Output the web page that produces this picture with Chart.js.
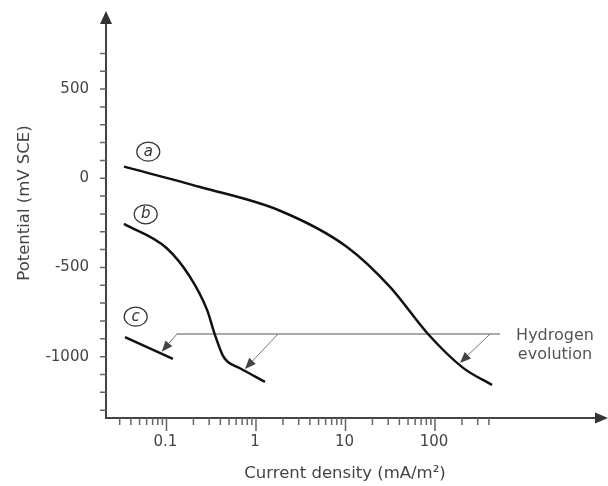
<!DOCTYPE html>
<html>
<head>
<meta charset="utf-8">
<script src="https://cdn.jsdelivr.net/npm/chart.js@4.4.1/dist/chart.umd.min.js"></script>
<style>
  html, body { margin: 0; padding: 0; background: #fff; }
  #wrap { width: 608px; height: 486px; }
</style>
</head>
<body>
<div id="wrap"><canvas id="chart" width="608" height="486"></canvas></div>
<script>
// curve (a)
const aX = [0.0335, 0.237, 1.855, 10.4, 31.4, 83.5, 206, 433];
const aY = [65, -49, -182, -385, -609, -873, -1063, -1159];
// curve (b)
const bX = [0.0335, 0.1, 0.183, 0.284, 0.348, 0.428, 0.486, 0.662, 1.26];
const bY = [-256, -391, -553, -738, -878, -996, -1030, -1065, -1142];
// curve (c)
const cX = [0.0344, 0.118];
const cY = [-890, -1013];

// hydrogen evolution marker line + arrows
const hX = [0.131, 532];
const hY = [-873, -873];
const arrowFrom = [[0.131, -873], [1.762, -873], [412, -873]];
const arrowTo   = [[0.0884, -972], [0.753, -1069], [190, -1035]];

// circled curve labels
const curveNames = ['a', 'b', 'c'];
const nameX = [0.0626, 0.0586, 0.0453];
const nameY = [149, -202, -776];

// axes
const X_MIN = 0.0211, X_MAX = 6620;
const Y_MIN = -1344,  Y_MAX = 876;
const yLabels = [500, 0, -500, -1000];
const yMinor  = [-1300, -1200, -1100, -1000, -900, -800, -700, -600, -500, -400, -300, -200, -100,
                 0, 100, 200, 300, 400, 500, 600, 700];
const xMajor  = [0.1, 1, 10, 100];
const xLabels = ['0.1', '1', '10', '100'];
const xMinor  = [0.03, 0.04, 0.05, 0.06, 0.07, 0.08, 0.09,
                 0.2, 0.3, 0.4, 0.5, 0.6, 0.7, 0.8, 0.9,
                 2, 3, 4, 5, 6, 7, 8, 9,
                 20, 30, 40, 50, 60, 70, 80, 90,
                 200, 300, 400];

const pts = (xs, ys) => xs.map((v, i) => ({ x: v, y: ys[i] }));
const FONT = '"DejaVu Sans", "Liberation Sans", sans-serif';

const axesPlugin = {
  id: 'axes',
  beforeDatasetsDraw(chart) {
    const { ctx, chartArea: ca, scales: { x, y } } = chart;
    ctx.save();
    // axis lines
    ctx.strokeStyle = '#444';
    ctx.lineWidth = 2;
    ctx.beginPath();
    ctx.moveTo(ca.left, ca.bottom);
    ctx.lineTo(ca.left, 23);
    ctx.moveTo(ca.left - 1, ca.bottom);
    ctx.lineTo(597, ca.bottom);
    ctx.stroke();
    ctx.fillStyle = '#333';
    ctx.beginPath();
    ctx.moveTo(ca.left, 11); ctx.lineTo(ca.left - 6, 24); ctx.lineTo(ca.left + 6, 24);
    ctx.closePath(); ctx.fill();
    ctx.beginPath();
    ctx.moveTo(608, ca.bottom); ctx.lineTo(595, ca.bottom - 5.5); ctx.lineTo(595, ca.bottom + 5.5);
    ctx.closePath(); ctx.fill();

    // ticks
    ctx.strokeStyle = '#666';
    ctx.lineWidth = 1.5;
    ctx.beginPath();
    yMinor.forEach(v => {
      const py = y.getPixelForValue(v);
      ctx.moveTo(ca.left - 6, py); ctx.lineTo(ca.left, py);
    });
    xMinor.forEach(v => {
      const px = x.getPixelForValue(v);
      ctx.moveTo(px, ca.bottom); ctx.lineTo(px, ca.bottom + 7);
    });
    xMajor.forEach(v => {
      const px = x.getPixelForValue(v);
      ctx.moveTo(px, ca.bottom); ctx.lineTo(px, ca.bottom + 13);
    });
    ctx.stroke();

    // tick labels
    ctx.fillStyle = '#444';
    ctx.font = '15px ' + FONT;
    ctx.textAlign = 'right';
    ctx.textBaseline = 'middle';
    yLabels.forEach(v => ctx.fillText(String(v), 89, y.getPixelForValue(v)));
    ctx.textAlign = 'center';
    xMajor.forEach((v, i) => ctx.fillText(xLabels[i], x.getPixelForValue(v) - 1, 442));

    // axis titles
    ctx.font = '16.5px ' + FONT;
    ctx.fillText('Current density (mA/m²)', 345, 474);
    ctx.translate(25, 203);
    ctx.rotate(-Math.PI / 2);
    ctx.fillText('Potential (mV SCE)', 0, 0);
    ctx.restore();
  },
  afterDatasetsDraw(chart) {
    const { ctx, scales: { x, y } } = chart;
    ctx.save();
    // arrows from the hydrogen line
    arrowFrom.forEach((f, i) => {
      const x0 = x.getPixelForValue(f[0]), y0 = y.getPixelForValue(f[1]);
      const x1 = x.getPixelForValue(arrowTo[i][0]), y1 = y.getPixelForValue(arrowTo[i][1]);
      const ang = Math.atan2(y1 - y0, x1 - x0);
      const L = 11, W = 4.5;
      const bx = x1 - L * Math.cos(ang), by = y1 - L * Math.sin(ang);
      ctx.strokeStyle = '#777';
      ctx.lineWidth = 1;
      ctx.beginPath(); ctx.moveTo(x0, y0); ctx.lineTo(bx, by); ctx.stroke();
      ctx.fillStyle = '#444';
      ctx.beginPath();
      ctx.moveTo(x1, y1);
      ctx.lineTo(bx + W * Math.sin(ang), by - W * Math.cos(ang));
      ctx.lineTo(bx - W * Math.sin(ang), by + W * Math.cos(ang));
      ctx.closePath(); ctx.fill();
    });

    // circled labels
    ctx.strokeStyle = '#333';
    ctx.lineWidth = 1.2;
    ctx.fillStyle = '#333';
    ctx.font = 'italic 15px ' + FONT;
    ctx.textAlign = 'center';
    ctx.textBaseline = 'middle';
    curveNames.forEach((n, i) => {
      const px = x.getPixelForValue(nameX[i]), py = y.getPixelForValue(nameY[i]);
      ctx.beginPath();
      ctx.ellipse(px, py, 11.5, 9.5, 0, 0, Math.PI * 2);
      ctx.stroke();
      ctx.fillText(n, px, py);
    });

    // hydrogen evolution text
    ctx.fillStyle = '#555';
    ctx.font = '16px ' + FONT;
    ctx.textBaseline = 'alphabetic';
    ctx.fillText('Hydrogen', 555, 340);
    ctx.fillText('evolution', 555, 359);
    ctx.restore();
  }
};

const curve = (xs, ys) => ({
  data: pts(xs, ys),
  borderColor: '#111',
  borderWidth: 2.5,
  pointRadius: 0,
  fill: false,
  cubicInterpolationMode: 'monotone'
});

new Chart(document.getElementById('chart'), {
  type: 'line',
  data: {
    datasets: [
      curve(aX, aY),
      curve(bX, bY),
      curve(cX, cY),
      { data: pts(hX, hY), borderColor: '#aaa', borderWidth: 2, pointRadius: 0, fill: false, tension: 0 }
    ]
  },
  options: {
    responsive: false,
    devicePixelRatio: 1,
    animation: false,
    layout: { padding: { left: 106, right: 10, top: 22, bottom: 68 } },
    plugins: { legend: { display: false }, tooltip: { enabled: false } },
    scales: {
      x: { type: 'logarithmic', min: X_MIN, max: X_MAX, display: false },
      y: { type: 'linear', min: Y_MIN, max: Y_MAX, display: false }
    }
  },
  plugins: [axesPlugin]
});
</script>
</body>
</html>
